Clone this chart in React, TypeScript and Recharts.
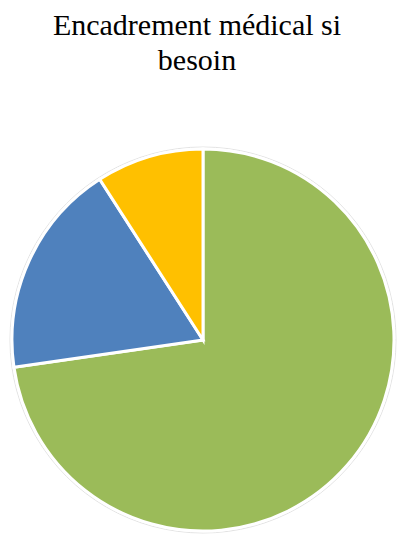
import { PieChart, Pie, Cell } from "recharts";

const categories = ["Oui", "Non", "Ne sait pas"];
const values = [8, 2, 1];
const COLORS = ["#9BBB59", "#4F81BD", "#FFC000"];

const titleLines = ["Encadrement médical si", "besoin"];

const data = categories.map((name, i) => ({ name, value: values[i] }));

export default function App() {
  return (
    <div
      style={{
        position: "absolute",
        left: 0,
        top: 0,
        width: 407,
        height: 534,
        background: "#fff",
      }}
    >
      {titleLines.map((line, i) => (
        <div
          key={i}
          style={{
            position: "absolute",
            left: 0,
            width: 394,
            top: 7 + i * 35,
            textAlign: "center",
            fontFamily: "Liberation Serif, DejaVu Serif, serif",
            fontSize: 30,
            lineHeight: "36px",
            color: "#000",
            whiteSpace: "nowrap",
          }}
        >
          {line}
        </div>
      ))}
      <PieChart
        width={407}
        height={534}
        margin={{ top: 0, right: 0, bottom: 0, left: 0 }}
      >
        <Pie
          data={[{ value: 1 }]}
          dataKey="value"
          cx={203}
          cy={340}
          outerRadius={193}
          innerRadius={0}
          fill="none"
          stroke="#e3e3e3"
          strokeWidth={1}
          isAnimationActive={false}
        />
        <Pie
          data={data}
          dataKey="value"
          nameKey="name"
          cx={203}
          cy={340}
          outerRadius={191}
          startAngle={90}
          endAngle={-270}
          stroke="#fff"
          strokeWidth={3}
          isAnimationActive={false}
        >
          {data.map((_, i) => (
            <Cell key={i} fill={COLORS[i % COLORS.length]} />
          ))}
        </Pie>
      </PieChart>
    </div>
  );
}
